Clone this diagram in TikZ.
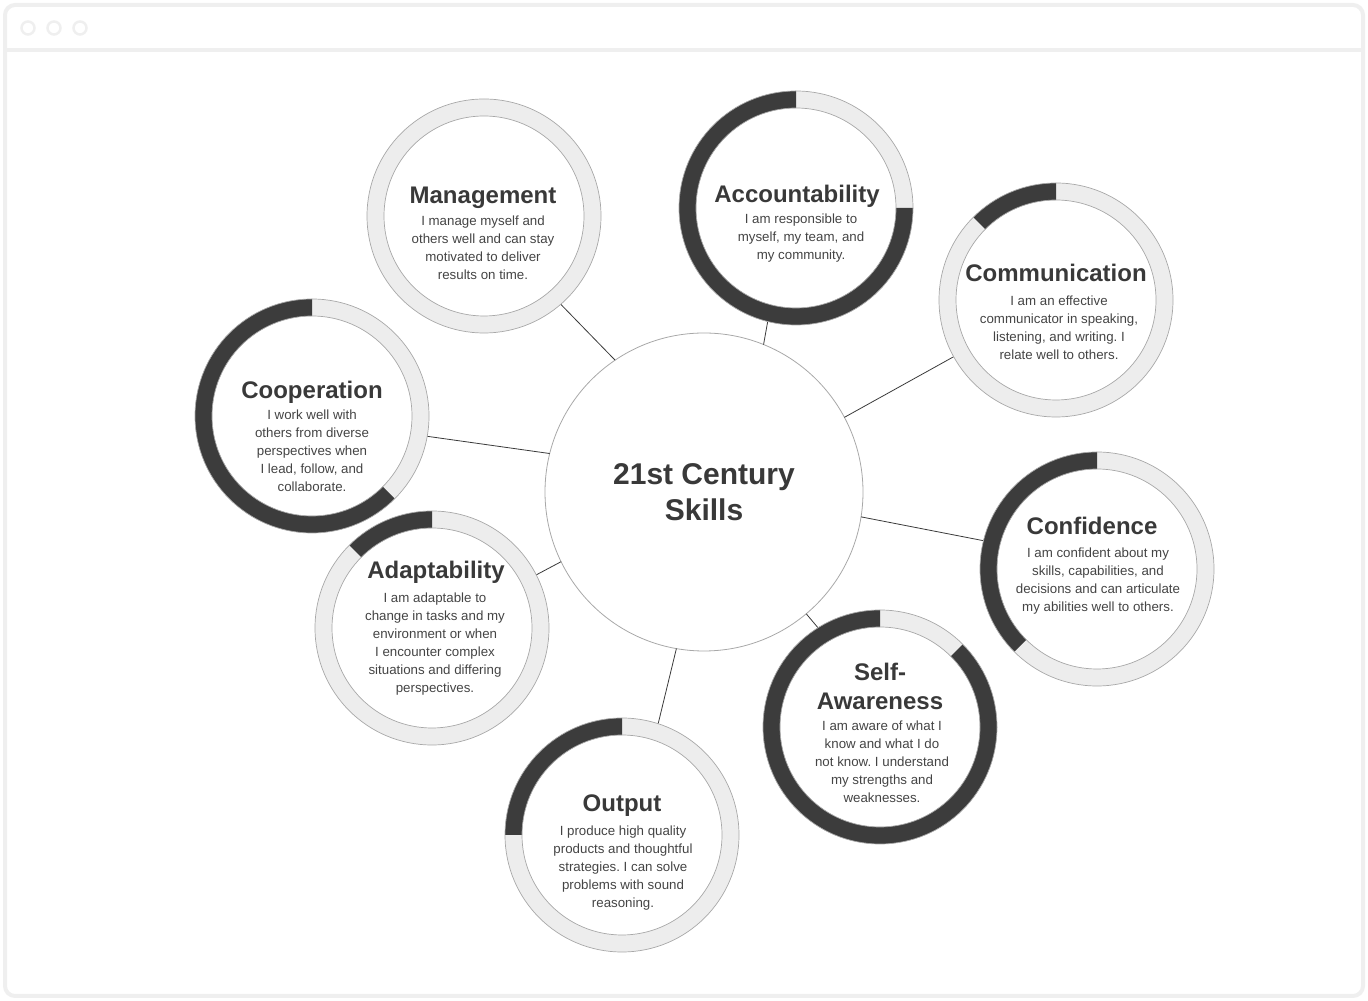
\documentclass[tikz,border=0pt]{standalone}
\usepackage{fontspec}
\setmainfont{Liberation Sans}
\usetikzlibrary{calc}
\frenchspacing
\definecolor{framegray}{HTML}{EFEFEF}
\definecolor{ringlight}{HTML}{EDEDED}
\definecolor{ringdark}{HTML}{3C3C3C}
\definecolor{ringline}{HTML}{A8A8A8}
\definecolor{titlecol}{HTML}{393939}
\definecolor{desccol}{HTML}{444444}
\definecolor{conncol}{HTML}{3A3A3A}
\newcommand{\skillring}[2]{%
  \fill[ringlight, even odd rule] (#1.center) circle (117) (#1.center) circle (100);
  \fill[ringdark] ($(#1.center)+(90:117)$) arc[start angle=90, end angle=#2, radius=117]
     -- ($(#1.center)+(#2:100)$) arc[start angle=#2, end angle=90, radius=100] -- cycle;
  \draw[ringline, line width=0.7pt] (#1.center) circle (117) (#1.center) circle (100);
}
\newcommand{\plainring}[1]{%
  \fill[ringlight, even odd rule] (#1.center) circle (117) (#1.center) circle (100);
  \draw[ringline, line width=0.7pt] (#1.center) circle (117) (#1.center) circle (100);
}
\tikzset{
  skill/.style={circle, minimum size=234pt, inner sep=0pt, outer sep=0pt},
  hubstyle/.style={circle, minimum size=318pt, inner sep=0pt, outer sep=0pt, draw=ringline, line width=0.8pt, fill=white,
     font=\fontsize{30}{36}\selectfont\bfseries, text=titlecol, align=center},
  conn/.style={draw=conncol, line width=0.8pt},
  skilltitle/.style={font=\fontsize{24}{29}\selectfont\bfseries, text=titlecol, anchor=base, inner sep=0pt, align=center},
  skilldesc/.style={font=\fontsize{13.3}{18}\selectfont, text=desccol, anchor=base, inner sep=0pt, align=center},
  dotstyle/.style={draw=framegray, line width=2.5pt}
}
\begin{document}
\begin{tikzpicture}[x=1pt,y=1pt]
\useasboundingbox (0,0) rectangle (1368,1001);
% window frame
\draw[framegray, line width=4pt, rounded corners=10pt] (5,5) rectangle (1363,996);
\draw[framegray, line width=4pt] (5,951) -- (1363,951);
\foreach \dx/\dn in {28/d1,54/d2,80/d3} \node[circle, minimum size=13pt, inner sep=0pt, dotstyle] (\dn) at (\dx,973) {};
% nodes
\node[hubstyle] (hub) at (704,509) {21st Century\\Skills};
\node[skill] (mgmt) at (484,785) {};
\node[skill] (acct) at (796,793) {};
\node[skill] (comm) at (1056,701) {};
\node[skill] (coop) at (312,585) {};
\node[skill] (adapt) at (432,373) {};
\node[skill] (outp) at (622,166) {};
\node[skill] (selfaw) at (880,274) {};
\node[skill] (conf) at (1097,432) {};
% connectors
\draw[conn] (hub.124.8) -- (mgmt.311.9);
\draw[conn] (hub.68.3) -- (acct.256.6);
\draw[conn] (hub.28) -- (comm.209.7);
\draw[conn] (hub.166.8) -- (coop.350);
\draw[conn] (hub.206.2) -- (adapt.27.9);
\draw[conn] (hub.260.2) -- (outp.72);
\draw[conn] (hub.310) -- (selfaw.122);
\draw[conn] (hub.351.7) -- (conf.166);
% rings
\plainring{mgmt}
\skillring{acct}{360}
\skillring{comm}{135}
\skillring{coop}{315}
\skillring{adapt}{135}
\skillring{outp}{180}
\skillring{selfaw}{405}
\skillring{conf}{225}
% texts (base anchor = baseline of the last line)
\node[skilltitle] (t1) at (483,797) {Management};
\node[skilldesc] (s1) at (483,721) {I manage myself and\\others well and can stay\\motivated to deliver\\results on time.};
\node[skilltitle] (t2) at (797,798) {Accountability};
\node[skilldesc] (s2) at (801,741) {I am responsible to\\myself, my team, and\\my community.};
\node[skilltitle] (t3) at (1056,719) {Communication};
\node[skilldesc] (s3) at (1059,641) {I am an effective\\communicator in speaking,\\listening, and writing. I\\relate well to others.};
\node[skilltitle] (t4) at (312,602) {Cooperation};
\node[skilldesc] (s4) at (312,509) {I work well with\\others from diverse\\perspectives when\\I lead, follow, and\\collaborate.};
\node[skilltitle] (t5) at (436,422) {Adaptability};
\node[skilldesc] (s5) at (435,308) {I am adaptable to\\change in tasks and my\\environment or when\\I encounter complex\\situations and differing\\perspectives.};
\node[skilltitle] (t6) at (622,189) {Output};
\node[skilldesc] (s6) at (623,93) {I produce high quality\\products and thoughtful\\strategies. I can solve\\problems with sound\\reasoning.};
\node[skilltitle] (t7) at (880,291) {Self-\\Awareness};
\node[skilldesc] (s7) at (882,198) {I am aware of what I\\know and what I do\\not know. I understand\\my strengths and\\weaknesses.};
\node[skilltitle] (t8) at (1092,466) {Confidence};
\node[skilldesc] (s8) at (1098,389) {I am confident about my\\skills, capabilities, and\\decisions and can articulate\\my abilities well to others.};
\end{tikzpicture}
\end{document}
